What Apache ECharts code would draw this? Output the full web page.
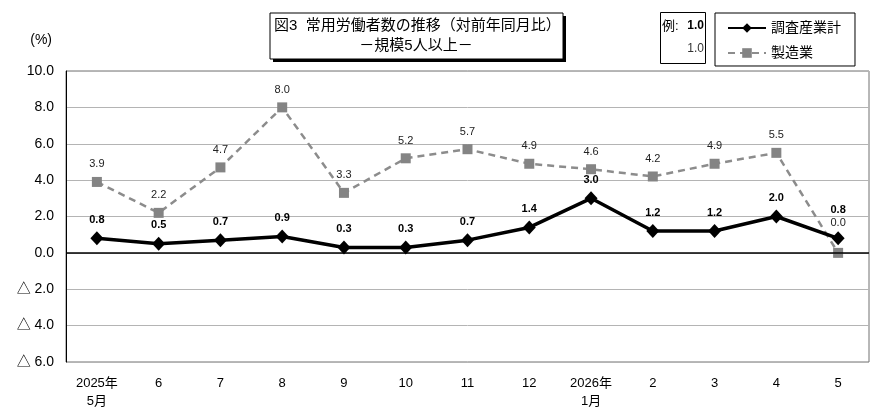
<!DOCTYPE html>
<html>
<head>
<meta charset="utf-8">
<script src="https://cdn.jsdelivr.net/npm/echarts@6/dist/echarts.min.js"></script>
<style>
html, body { margin: 0; padding: 0; background: #fff; }
#main { width: 890px; height: 413px; }
</style>
</head>
<body>
<div id="main"></div>
<script>
// 月（カテゴリ）
var months = ["2025年\n5月", "6", "7", "8", "9", "10", "11", "12", "2026年\n1月", "2", "3", "4", "5"];
// 調査産業計
var totalValues = [0.8, 0.5, 0.7, 0.9, 0.3, 0.3, 0.7, 1.4, 3.0, 1.2, 1.2, 2.0, 0.8];
// 製造業
var mfgValues = [3.9, 2.2, 4.7, 8.0, 3.3, 5.2, 5.7, 4.9, 4.6, 4.2, 4.9, 5.5, 0.0];

var titleLines = ["図3  常用労働者数の推移（対前年同月比）", "－規模5人以上－"];
var seriesNames = ["調査産業計", "製造業"];

var FONT = '"Liberation Sans", "Noto Sans CJK JP", sans-serif';
var last = months.length - 1;

// 最終月はラベルが重なるので少し持ち上げる
function liftLast(values, lift) {
    return values.map(function (v, i) {
        return i === last ? { value: v, label: { offset: [0, lift] } } : v;
    });
}

var chart = echarts.init(document.getElementById("main"));

var option = {
    animation: false,
    textStyle: { fontFamily: FONT },
    grid: {
        left: 66,
        right: 21,
        top: 71,
        bottom: 51,
        show: true,
        borderColor: "#707070",
        borderWidth: 1
    },
    legend: {
        orient: "vertical",
        left: 715,
        top: 13,
        width: 138,
        padding: [8, 14, 6, 12],
        itemGap: 11,
        itemWidth: 38,
        itemHeight: 12,
        borderColor: "#000",
        borderWidth: 1,
        textStyle: { fontSize: 14, color: "#000", fontFamily: FONT },
        data: seriesNames
    },
    xAxis: {
        type: "category",
        data: months,
        boundaryGap: true,
        axisLine: { show: false },
        axisTick: { show: false },
        axisLabel: {
            color: "#000",
            fontSize: 13,
            lineHeight: 18,
            margin: 12,
            fontFamily: FONT
        }
    },
    yAxis: {
        type: "value",
        min: -6,
        max: 10,
        interval: 2,
        name: "(%)",
        nameLocation: "end",
        nameGap: 24,
        nameTextStyle: { color: "#000", fontSize: 14, align: "right", padding: [0, 14, 0, 0] },
        axisLine: { show: true, lineStyle: { color: "#000", width: 1 } },
        axisTick: { show: false },
        splitLine: { show: true, lineStyle: { color: "#b4b4b4", width: 1 } },
        axisLabel: {
            color: "#000",
            fontSize: 14,
            margin: 12,
            formatter: function (v) {
                return v < 0 ? "△ " + Math.abs(v).toFixed(1) : v.toFixed(1);
            }
        }
    },
    series: [{
        name: seriesNames[1],
        type: "line",
        data: liftLast(mfgValues, -12),
        z: 2,
        symbol: "rect",
        symbolSize: 10,
        itemStyle: { color: "#848484" },
        lineStyle: { color: "#8c8c8c", width: 2.5, type: [7, 5] },
        label: {
            show: true,
            position: "top",
            distance: 7,
            fontSize: 11,
            color: "#222",
            formatter: function (p) { return p.value.toFixed(1); }
        }
    }, {
        name: seriesNames[0],
        type: "line",
        data: liftLast(totalValues, -10),
        z: 3,
        symbol: "diamond",
        symbolSize: [13, 14],
        itemStyle: { color: "#000" },
        lineStyle: { color: "#000", width: 3.5 },
        label: {
            show: true,
            position: "top",
            distance: 6,
            fontSize: 11,
            fontWeight: "bold",
            color: "#000",
            formatter: function (p) { return p.value.toFixed(1); }
        },
        markLine: {
            silent: true,
            symbol: "none",
            label: { show: false },
            lineStyle: { color: "#000", width: 1.5, type: "solid" },
            data: [{ yAxis: 0 }]
        }
    }],
    graphic: [
        // タイトル枠（影付き）
        { type: "rect", shape: { x: 273, y: 16, width: 293, height: 46 }, style: { fill: "#000" } },
        { type: "rect", shape: { x: 270, y: 13, width: 293, height: 46 }, style: { fill: "#fff", stroke: "#000", lineWidth: 1 } },
        { type: "text", x: 274, y: 18, style: { text: titleLines[0], fontSize: 15, fill: "#000", fontFamily: FONT } },
        { type: "text", x: 416, y: 38, style: { text: titleLines[1], fontSize: 15, fill: "#000", fontFamily: FONT, align: "center" } },
        // 例ボックス
        { type: "rect", shape: { x: 660.5, y: 12.5, width: 45, height: 51 }, style: { fill: "#fff", stroke: "#000", lineWidth: 1 } },
        { type: "text", x: 662, y: 20, style: { text: "例:", fontSize: 13, fill: "#000", fontFamily: FONT } },
        { type: "text", x: 704, y: 20, style: { text: "1.0", fontSize: 12, fontWeight: "bold", fill: "#000", fontFamily: FONT, align: "right" } },
        { type: "text", x: 704, y: 43, style: { text: "1.0", fontSize: 12, fill: "#333", fontFamily: FONT, align: "right" } }
    ]
};

chart.setOption(option);
</script>
</body>
</html>
